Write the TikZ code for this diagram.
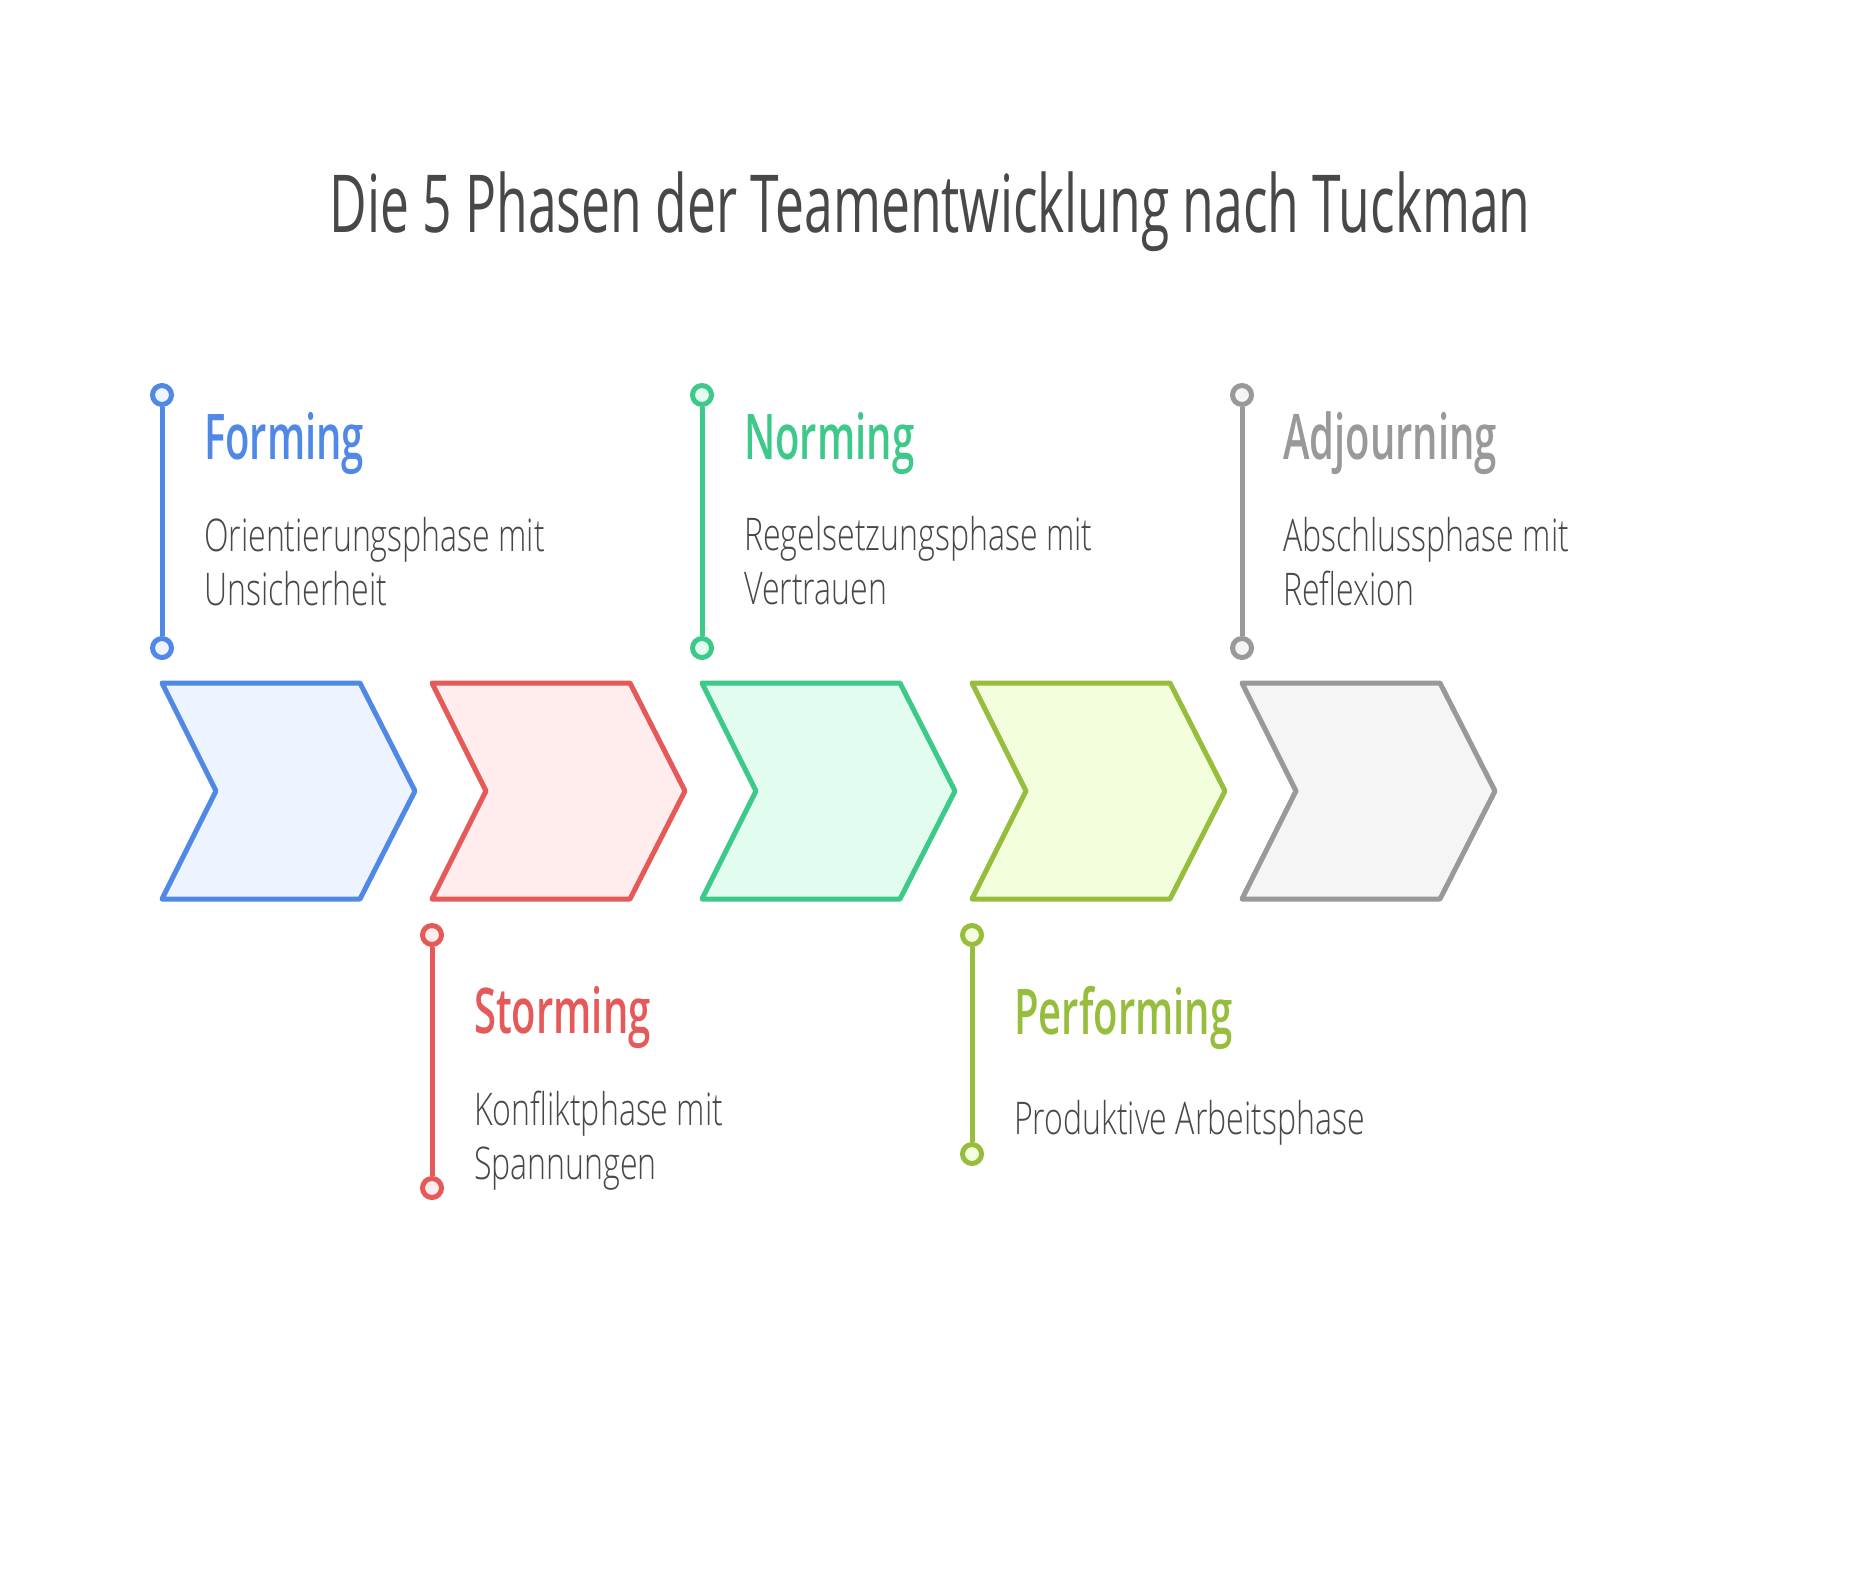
\documentclass[tikz,border=0pt]{standalone}
\usepackage{fontspec}
\newfontfamily\titlefont{Open Sans}[FakeStretch=0.645]
\IfFontExistsTF{Open Sans SemiBold}{%
  \newfontfamily\headfont{Open Sans SemiBold}[FakeStretch=0.635]}{%
  \IfFontExistsTF{Open Sans Semibold}{%
    \newfontfamily\headfont{Open Sans Semibold}[FakeStretch=0.635]}{%
    \newfontfamily\headfont{Open Sans}[FakeStretch=0.62,UprightFont=*Bold]}}
\IfFontExistsTF{Open Sans Light}{%
  \newfontfamily\descfont{Open Sans Light}[FakeStretch=0.713]}{%
  \newfontfamily\descfont{Open Sans}[FakeStretch=0.685]}
\definecolor{txt}{RGB}{72,72,72}
\definecolor{bluS}{RGB}{80,136,230}\definecolor{bluF}{RGB}{237,244,255}
\definecolor{redS}{RGB}{229,89,89}\definecolor{redF}{RGB}{255,236,236}
\definecolor{grnS}{RGB}{61,201,138}\definecolor{grnF}{RGB}{226,253,240}
\definecolor{limS}{RGB}{150,190,60}\definecolor{limF}{RGB}{243,255,220}
\definecolor{grayS}{RGB}{153,153,153}\definecolor{grayF}{RGB}{246,245,245}
\tikzset{
  chev/.style={line width=5pt, line join=round},
  dot/.style={circle, draw=#1, line width=5pt, minimum size=19pt, inner sep=0pt},
  stem/.style={line width=5pt, draw=#1},
  heading/.style={anchor=base west, inner sep=0pt, text=#1, font=\headfont\fontsize{63}{70}\selectfont},
  desc/.style={anchor=base west, inner sep=0pt, text=txt, align=left, font=\descfont\fontsize{45}{54}\selectfont},
  titletext/.style={anchor=base, inner sep=0pt, text=txt, font=\titlefont\fontsize{80}{90}\selectfont}
}
\begin{document}
\begin{tikzpicture}[x=1pt,y=-1pt]
\useasboundingbox[fill=white] (0,0) rectangle (1854,1584);
\node[titletext] (title) at (930,232) {Die 5 Phasen der Teamentwicklung nach Tuckman};
% chevrons
\foreach \i/\s/\f in {0/bluS/bluF,1/redS/redF,2/grnS/grnF,3/limS/limF,4/grayS/grayF}{
  \pgfmathsetmacro{\cx}{162+270*\i}
  \draw[chev, draw=\s, fill=\f] (\cx,683) -- ++(198,0) -- ++(55,108) -- ++(-55,108) -- ++(-198,0) -- ++(54,-108) -- cycle;
}
% Forming
\node[dot=bluS, fill=bluF] (f1) at (162,395) {};
\node[dot=bluS, fill=bluF] (f2) at (162,648) {};
\draw[stem=bluS] (f1) -- (f2);
\node[heading=bluS] (fh) at (204,459) {Forming};
\node[desc] (fd) at (204,605) {Orientierungsphase mit\\Unsicherheit};
% Storming
\node[dot=redS, fill=redF] (s1) at (432,935) {};
\node[dot=redS, fill=redF] (s2) at (432,1188) {};
\draw[stem=redS] (s1) -- (s2);
\node[heading=redS] (sh) at (474,1033) {Storming};
\node[desc] (sd) at (474,1179) {Konfliktphase mit\\Spannungen};
% Norming
\node[dot=grnS, fill=grnF] (n1) at (702,395) {};
\node[dot=grnS, fill=grnF] (n2) at (702,648) {};
\draw[stem=grnS] (n1) -- (n2);
\node[heading=grnS] (nh) at (744,459) {Norming};
\node[desc] (nd) at (744,604) {Regelsetzungsphase mit\\Vertrauen};
% Performing
\node[dot=limS, fill=limF] (p1) at (972,935) {};
\node[dot=limS, fill=limF] (p2) at (972,1154) {};
\draw[stem=limS] (p1) -- (p2);
\node[heading=limS] (ph) at (1014,1034) {Performing};
\node[desc] (pd) at (1014,1134) {Produktive Arbeitsphase};
% Adjourning
\node[dot=grayS, fill=grayF] (a1) at (1242,395) {};
\node[dot=grayS, fill=grayF] (a2) at (1242,648) {};
\draw[stem=grayS] (a1) -- (a2);
\node[heading=grayS] (ah) at (1283,459) {Adjourning};
\node[desc] (ad) at (1283,605) {Abschlussphase mit\\Reflexion};
\end{tikzpicture}
\end{document}
